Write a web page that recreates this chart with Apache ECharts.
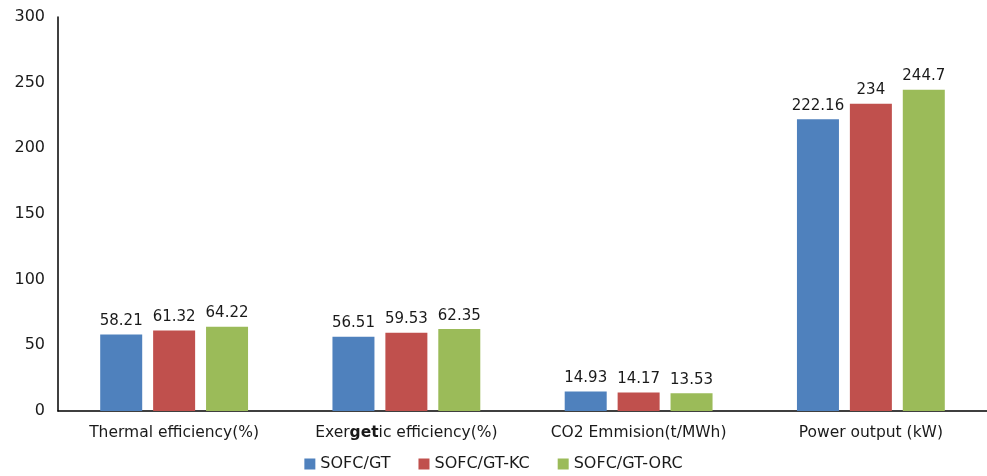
<!DOCTYPE html>
<html>
<head>
<meta charset="utf-8">
<script src="https://cdn.jsdelivr.net/npm/echarts@6/dist/echarts.min.js"></script>
<style>
  html, body { margin: 0; padding: 0; background: #fff; }
  #chart { width: 987px; height: 476px; }
</style>
</head>
<body>
<div id="chart"></div>
<script>
// Performance comparison of the three SOFC plant configurations
const categories = [
  'Thermal efficiency(%)',
  'Exergetic efficiency(%)',
  'CO2 Emmision(t/MWh)',
  'Power output (kW)'
];
const seriesNames = ['SOFC/GT', 'SOFC/GT-KC', 'SOFC/GT-ORC'];
const sofcGt    = [58.21, 56.51, 14.93, 222.16];
const sofcGtKc  = [61.32, 59.53, 14.17, 234];
const sofcGtOrc = [64.22, 62.35, 13.53, 244.7];
const yTicks = [0, 50, 100, 150, 200, 250, 300];

const colors = ['#4F81BD', '#C0504D', '#9BBB59'];
const font = 'DejaVu Sans';
const textColor = '#1a1a1a';

function barSeries(name, values, color) {
  return {
    name: name,
    type: 'bar',
    data: values,
    barWidth: 42,
    barGap: '26%',
    itemStyle: { color: color },
    label: {
      show: true,
      position: 'top',
      distance: 6,
      color: textColor,
      fontFamily: font,
      fontSize: 15
    }
  };
}

const chart = echarts.init(document.getElementById('chart'));
chart.setOption({
  animation: false,
  backgroundColor: '#fff',
  grid: { left: 58, right: 0, top: 17, bottom: 65 },
  legend: {
    top: 451,
    left: 'center',
    itemWidth: 11,
    itemHeight: 11,
    itemGap: 28,
    icon: 'rect',
    textStyle: { fontFamily: font, fontSize: 16, color: textColor },
    data: seriesNames
  },
  xAxis: {
    type: 'category',
    data: categories,
    axisLine: { lineStyle: { color: '#000', width: 1.5 } },
    axisTick: { show: false },
    axisLabel: {
      interval: 0,
      color: textColor,
      fontFamily: font,
      fontSize: 15.5,
      margin: 14,
      formatter: function (v) {
        return v === 'Exergetic efficiency(%)' ? 'Exer{b|get}ic efficiency(%)' : v;
      },
      rich: { b: { fontWeight: 600, fontFamily: font, fontSize: 15.5, color: textColor } }
    }
  },
  yAxis: {
    type: 'value',
    min: yTicks[0],
    max: yTicks[yTicks.length - 1],
    interval: 50,
    splitLine: { show: false },
    axisLine: { show: true, lineStyle: { color: '#000', width: 1.5 } },
    axisTick: { show: false },
    axisLabel: {
      color: textColor,
      fontFamily: font,
      fontSize: 16,
      margin: 13
    }
  },
  series: [
    barSeries(seriesNames[0], sofcGt, colors[0]),
    barSeries(seriesNames[1], sofcGtKc, colors[1]),
    barSeries(seriesNames[2], sofcGtOrc, colors[2])
  ]
});
</script>
</body>
</html>
